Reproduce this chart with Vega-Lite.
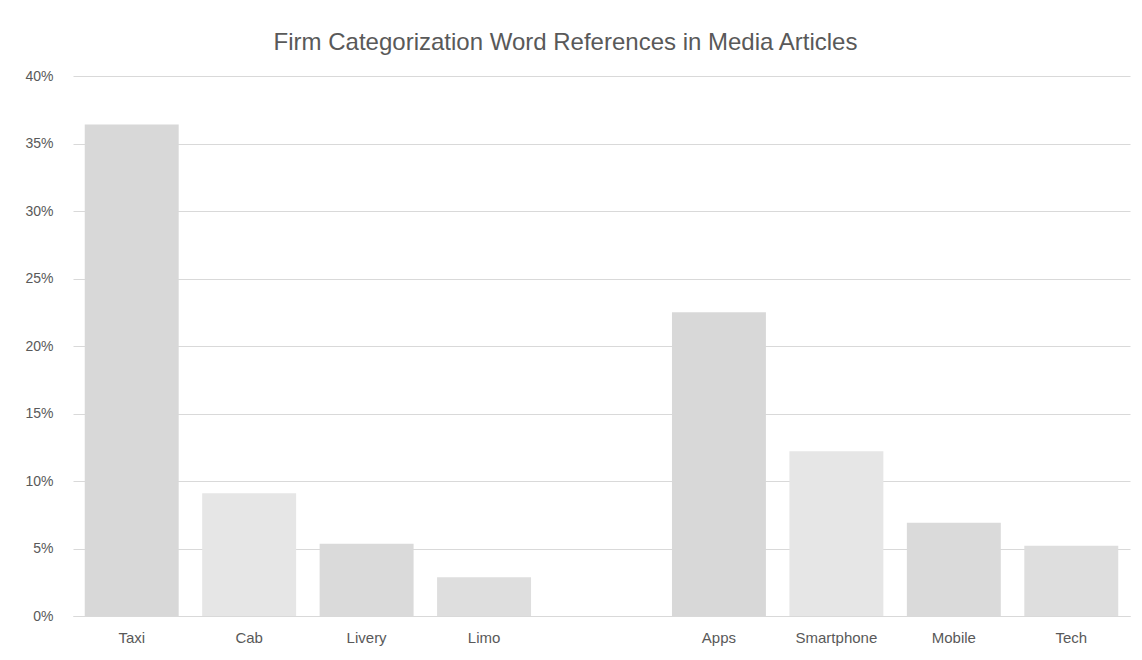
{
  "$schema": "https://vega.github.io/schema/vega-lite/v6.json",
  "autosize": "none",
  "width": 1057,
  "height": 540,
  "padding": {"left": 73, "top": 76, "right": 12, "bottom": 44},
  "background": "white",
  "title": {
    "text": "Firm Categorization Word References in Media Articles",
    "anchor": "middle",
    "dx": -36,
    "offset": 14,
    "font": "Liberation Sans",
    "fontSize": 24,
    "fontWeight": "normal",
    "color": "#595959"
  },
  "data": {
    "values": [
      {"word": "Taxi", "share": 0.364, "shade": "a"},
      {"word": "Cab", "share": 0.091, "shade": "b"},
      {"word": "Livery", "share": 0.0535, "shade": "c"},
      {"word": "Limo", "share": 0.0287, "shade": "d"},
      {"word": "Apps", "share": 0.225, "shade": "a"},
      {"word": "Smartphone", "share": 0.122, "shade": "b"},
      {"word": "Mobile", "share": 0.069, "shade": "c"},
      {"word": "Tech", "share": 0.052, "shade": "d"}
    ]
  },
  "mark": {"type": "bar"},
  "encoding": {
    "x": {
      "field": "word",
      "type": "nominal",
      "sort": null,
      "scale": {
        "domain": ["Taxi", "Cab", "Livery", "Limo", " ", "Apps", "Smartphone", "Mobile", "Tech"],
        "paddingInner": 0.2,
        "paddingOuter": 0.1
      },
      "axis": {
        "title": null,
        "labelAngle": 0,
        "ticks": false,
        "domain": true,
        "domainColor": "#d9d9d9",
        "labelPadding": 14,
        "labelFont": "Liberation Sans",
        "labelFontSize": 15,
        "labelColor": "#595959"
      }
    },
    "y": {
      "field": "share",
      "type": "quantitative",
      "scale": {"domain": [0, 0.4]},
      "axis": {
        "title": null,
        "format": ".0%",
        "values": [0, 0.05, 0.1, 0.15, 0.2, 0.25, 0.3, 0.35, 0.4],
        "ticks": false,
        "domain": false,
        "grid": true,
        "gridColor": "#d9d9d9",
        "labelPadding": 20,
        "labelFont": "Liberation Sans",
        "labelFontSize": 14,
        "labelColor": "#595959"
      }
    },
    "color": {
      "field": "shade",
      "type": "nominal",
      "scale": {"domain": ["a", "b", "c", "d"], "range": ["#d8d8d8", "#e6e6e6", "#dadada", "#dedede"]},
      "legend": null
    }
  },
  "config": {"view": {"stroke": null}}
}
